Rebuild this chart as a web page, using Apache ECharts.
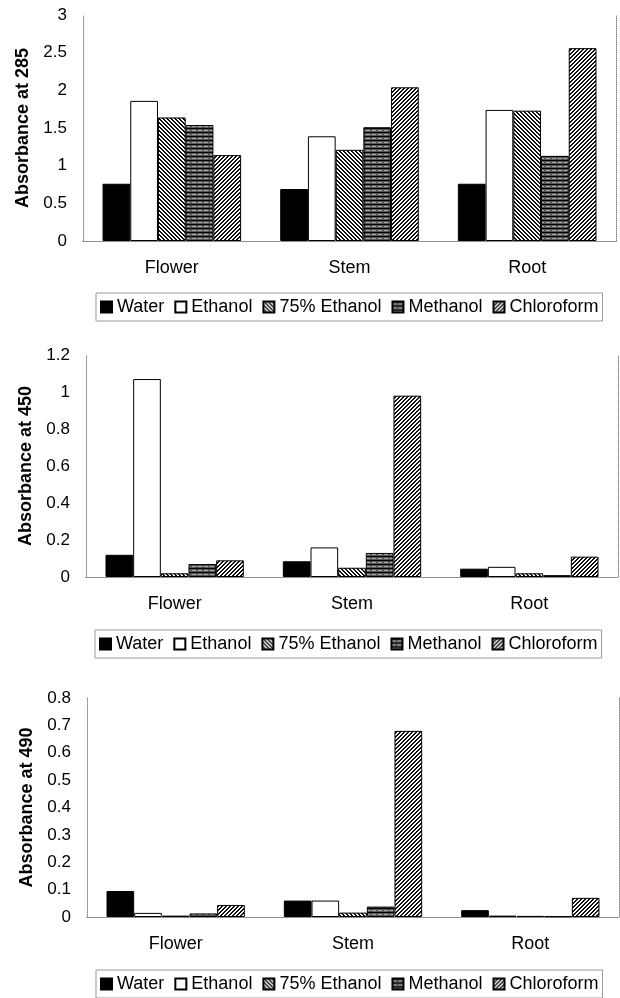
<!DOCTYPE html>
<html><head><meta charset="utf-8">
<script src="https://cdn.jsdelivr.net/npm/echarts@6/dist/echarts.min.js"></script>
<style>html,body{margin:0;padding:0;background:#fff}#c{width:620px;height:998px}</style>
</head><body><div id="c"></div>
<script>
// ---- data ----
var categories = ['Flower', 'Stem', 'Root'];
var seriesNames = ['Water', 'Ethanol', '75% Ethanol', 'Methanol', 'Chloroform'];

var a285Water = [0.76, 0.69, 0.76];
var a285Ethanol = [1.86, 1.39, 1.74];
var a285Ethanol75 = [1.64, 1.21, 1.73];
var a285Methanol = [1.54, 1.51, 1.13];
var a285Chloroform = [1.14, 2.04, 2.56];

var a450Water = [0.12, 0.085, 0.045];
var a450Ethanol = [1.07, 0.16, 0.055];
var a450Ethanol75 = [0.02, 0.05, 0.02];
var a450Methanol = [0.07, 0.13, 0.01];
var a450Chloroform = [0.09, 0.98, 0.11];

var a490Water = [0.095, 0.06, 0.025];
var a490Ethanol = [0.015, 0.06, 0.005];
var a490Ethanol75 = [0.005, 0.016, 0.004];
var a490Methanol = [0.013, 0.038, 0.003];
var a490Chloroform = [0.044, 0.68, 0.07];

var axisNames = ['Absorbance at 285', 'Absorbance at 450', 'Absorbance at 490'];
var axisMax = [3, 1.2, 0.8];
var axisInterval = [0.5, 0.2, 0.1];

var panels = [
  [a285Water, a285Ethanol, a285Ethanol75, a285Methanol, a285Chloroform],
  [a450Water, a450Ethanol, a450Ethanol75, a450Methanol, a450Chloroform],
  [a490Water, a490Ethanol, a490Ethanol75, a490Methanol, a490Chloroform]
];

// ---- patterns ----
function diagPattern(dir) {
  var c = document.createElement('canvas'); c.width = 4; c.height = 4;
  var g = c.getContext('2d');
  g.fillStyle = '#fff'; g.fillRect(0, 0, 4, 4);
  g.fillStyle = '#111';
  for (var i = 0; i < 4; i++) {
    var x = dir > 0 ? i : 3 - i;
    g.fillRect(x, i, 1, 1);
    g.fillRect((x + 1) % 4, i, 1, 1);
  }
  return { image: c, repeat: 'repeat' };
}
function horizPattern() {
  var c = document.createElement('canvas'); c.width = 6; c.height = 4;
  var g = c.getContext('2d');
  g.fillStyle = '#555'; g.fillRect(0, 0, 6, 4);
  g.fillStyle = '#000'; g.fillRect(0, 0, 6, 1);
  g.fillStyle = '#aaa'; g.fillRect(0, 2, 4, 1);
  return { image: c, repeat: 'repeat' };
}
var fills = ['#000', '#fff', diagPattern(1), horizPattern(), diagPattern(-1)];

var FONT = "'Liberation Sans', Arial, sans-serif";
var grids = [
  { left: 83, right: 4, top: 15, height: 226 },
  { left: 86, right: 2, top: 355, height: 222 },
  { left: 87, right: 1, top: 698, height: 219 }
];
var legendTops = [293, 630, 970];
var legendLefts = [96, 95, 96];
var nameGaps = [48, 51, 48];

var xAxes = [], yAxes = [], series = [], legends = [];
var dotted = { show: true, lineStyle: { color: '#888', type: 'dotted', width: 1 } };
for (var p = 0; p < 3; p++) {
  xAxes.push({ gridIndex: p, type: 'category', data: categories, position: 'bottom',
    axisLine: dotted, axisTick: { show: false },
    axisLabel: { fontFamily: FONT, fontSize: 18, color: '#000', margin: 18 } });
  xAxes.push({ gridIndex: p, type: 'category', data: categories, position: 'top',
    axisLine: dotted, axisTick: { show: false }, axisLabel: { show: false } });
  yAxes.push({ gridIndex: p, type: 'value', min: 0, max: axisMax[p], interval: axisInterval[p],
    name: axisNames[p], nameLocation: 'middle', nameGap: nameGaps[p],
    nameTextStyle: { fontFamily: FONT, fontSize: 18, fontWeight: 'bold', color: '#000' },
    axisLine: dotted, axisTick: { show: false }, splitLine: { show: false },
    axisLabel: { fontFamily: FONT, fontSize: 17, color: '#000', margin: 16 } });
  yAxes.push({ gridIndex: p, type: 'value', min: 0, max: axisMax[p], interval: axisInterval[p],
    position: 'right', axisLine: dotted, axisTick: { show: false }, splitLine: { show: false },
    axisLabel: { show: false } });
  for (var s = 0; s < 5; s++) {
    series.push({ type: 'bar', name: seriesNames[s], xAxisIndex: 2 * p, yAxisIndex: 2 * p,
      data: panels[p][s], barGap: '0%', barCategoryGap: '22%',
      itemStyle: { color: fills[s], borderColor: '#000', borderWidth: 1 },
      emphasis: { disabled: true } });
  }
  legends.push({ data: seriesNames, left: legendLefts[p], top: legendTops[p], orient: 'horizontal',
    icon: 'rect', itemWidth: 11, itemHeight: 11, itemGap: 10,
    padding: [5, 4, 5, 4], borderColor: '#999', borderWidth: 1,
    textStyle: { fontFamily: FONT, fontSize: 18, color: '#000' } });
}

var chart = echarts.init(document.getElementById('c'), null, { renderer: 'canvas' });
chart.setOption({
  animation: false,
  backgroundColor: '#fff',
  grid: grids,
  xAxis: xAxes,
  yAxis: yAxes,
  legend: legends,
  series: series
});
</script></body></html>
